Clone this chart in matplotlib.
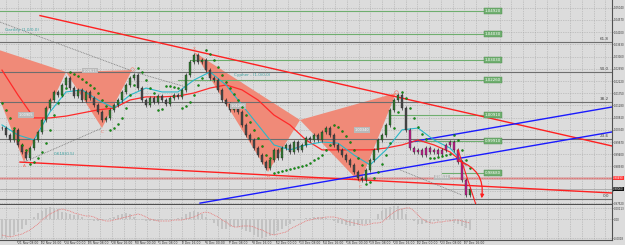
import matplotlib.pyplot as plt
import numpy as np
from matplotlib.patches import FancyArrowPatch

# ---- data (bar index = one candle, prices in quote units) ----
close = [
    1.0041, 1.0014, 0.9995, 1.0034, 0.9976, 0.9949, 0.9926, 0.9964, 0.9995, 1.0026,
    1.0072, 1.0118, 1.0149, 1.0180, 1.0168, 1.0207, 1.0234, 1.0195, 1.0164, 1.0188,
    1.0149, 1.0180, 1.0157, 1.0130, 1.0103, 1.0072, 1.0080, 1.0111, 1.0130, 1.0149,
    1.0180, 1.0207, 1.0234, 1.0245, 1.0195, 1.0149, 1.0130, 1.0157, 1.0141, 1.0164,
    1.0149, 1.0134, 1.0157, 1.0168, 1.0161, 1.0188, 1.0245, 1.0295, 1.0322, 1.0295,
    1.0303, 1.0264, 1.0234, 1.0226, 1.0188, 1.0149, 1.0134, 1.0111, 1.0118, 1.0103,
    1.0053, 1.0014, 0.9995, 0.9964, 0.9937, 0.9910, 0.9887, 0.9918, 0.9957, 0.9926,
    0.9964, 0.9976, 0.9949, 0.9987, 0.9957, 0.9976, 1.0003, 0.9995, 1.0014, 0.9995,
    1.0026, 1.0041, 1.0014, 0.9976, 0.9957, 0.9937, 0.9918, 0.9899, 0.9872, 0.9849,
    0.9841, 0.9880, 0.9918, 0.9957, 0.9995, 1.0014, 1.0053, 1.0111, 1.0149, 1.0168,
    1.0118, 1.0034, 0.9964, 0.9949, 0.9957, 0.9937, 0.9964, 0.9949, 0.9957, 0.9941,
    0.9957, 0.9976, 0.9987, 0.9957, 0.9910, 0.9841, 0.9783, 0.9806,
]
psar = [
    1.0138, 1.0111, 1.0080, 1.0041, 0.9995, 0.9976, 0.9957, 0.9903, 0.9910, 0.9926,
    0.9949, 0.9983, 1.0034, 1.0091, 1.0137, 1.0168, 1.0195, 1.0257, 1.0249, 1.0241,
    1.0230, 1.0218, 1.0207, 1.0195, 1.0176, 1.0149, 1.0126, 1.0034, 1.0041, 1.0057,
    1.0080, 1.0118, 1.0168, 1.0207, 1.0272, 1.0257, 1.0226, 1.0195, 1.0176, 1.0111,
    1.0114, 1.0203, 1.0203, 1.0199, 1.0195, 1.0118, 1.0126, 1.0141, 1.0168, 1.0207,
    1.0234, 1.0342, 1.0326, 1.0303, 1.0276, 1.0245, 1.0218, 1.0195, 1.0172, 1.0149,
    1.0122, 1.0091, 1.0064, 1.0034, 1.0003, 0.9972, 0.9937, 0.9926, 0.9868, 0.9872,
    0.9876, 0.9880, 0.9883, 0.9887, 0.9891, 0.9895, 0.9899, 0.9906, 0.9918, 0.9926,
    0.9937, 0.9957, 0.9976, 1.0053, 1.0045, 1.0030, 1.0010, 0.9987, 0.9957, 0.9926,
    0.9899, 0.9826, 0.9833, 0.9849, 0.9872, 0.9903, 0.9937, 0.9983, 1.0041, 1.0103,
    1.0180, 1.0157, 1.0118, 1.0080, 1.0045, 1.0018, 0.9999, 0.9926, 0.9926, 0.9930,
    0.9934, 0.9937, 0.9941, 1.0014, 0.9995, 0.9957, 0.9918, 0.9887,
]
ma_bars = list(range(0, 118, 4))
ma_fast = [
    1.0053, 1.0014, 0.9995, 1.0103, 1.0180, 1.0188, 1.0149, 1.0118, 1.0168, 1.0195,
    1.0180, 1.0180, 1.0226, 1.0257, 1.0207, 1.0130, 1.0053, 0.9976, 0.9957, 0.9976,
    0.9987, 0.9983, 0.9937, 0.9899, 0.9957, 1.0034, 1.0041, 0.9995, 0.9964, 0.9899,
]
ma_slow = [
    1.0264, 1.0168, 1.0080, 1.0080, 1.0087, 1.0099, 1.0111, 1.0118, 1.0149, 1.0161,
    1.0161, 1.0164, 1.0176, 1.0195, 1.0207, 1.0188, 1.0149, 1.0091, 1.0053, 0.9995,
    0.9957, 0.9957, 0.9957, 0.9957, 0.9964, 0.9976, 0.9995, 0.9976, 0.9949, 0.9899,
]
# oscillator sub-window, in units of 1e-4
osc_main = [
    -20, -19, -18, -16, -13, -10, -6, -1, 2, 6, 8, 11, 12, 11, 10, 7, 6, 5, 4, 4,
    2, 0, -1, -2, -2, -1, 0, 1, 2, 4, 5, 6, 5, 2, 0, -1, -2, -2, -2, -2,
    -1, -1, -1, 0, 1, 2, 5, 7, 8, 7, 5, 2, -1, -4, -7, -10, -10, -8, -8, -8,
    -10, -12, -13, -16, -18, -19, -18, -17, -16, -12, -10, -7, -5, -2, -1, 0, 1, 1, 2, 2,
    2, 1, 0, -2, -4, -5, -6, -7, -7, -6, -5, -5, -4, 0, 5, 8, 11, 12, 13, 13,
    10, 5, 0, -2, -5, -5, -4, -4, -2, -2, -1, -1, -2, -4, -5, -7, -9, -11,
]
osc_signal = [
    -16, -17, -18, -17, -16, -15, -13, -11, -8, -5, -1, 2, 5, 7, 9, 10, 9, 8, 6, 5,
    4, 3, 3, 2, 0, -1, -2, -2, -1, 0, 1, 2, 3, 4, 5, 4, 2, 0, -1, -2,
    -2, -2, -2, -1, -1, -1, 0, 1, 2, 4, 6, 7, 6, 4, 2, -1, -3, -6, -8, -8,
    -7, -7, -7, -8, -10, -11, -13, -15, -16, -15, -14, -13, -10, -8, -6, -4, -2, -1, 0, 1,
    1, 2, 2, 2, 1, 0, -2, -3, -4, -5, -6, -6, -5, -4, -4, -3, 0, 4, 7, 9,
    10, 11, 11, 8, 4, 0, -2, -4, -4, -3, -3, -2, -2, -1, -1, -2, -3, -4,
]

# harmonic patterns (X, A, B, C, D) as (bar, price)
gartley_bar = [-6, 5.5, 16, 25, 32.5]
gartley_px = [1.0368, 0.9910, 1.0257, 1.0041, 1.0264]
cypher_bar = [48, 66.5, 74.5, 89.5, 98.5]
cypher_px = [1.0334, 0.9872, 1.0072, 0.9830, 1.0176]

fib_zero, fib_full = 0.9768, 1.0745
fib_levels = [0.0, 23.6, 38.2, 50.0, 61.8]
targets = [1.0492, 1.0403, 1.0303, 1.0226, 1.0091, 0.9991, 0.9868]
target_start = [-0.5, -0.5, 47, 44, 97, 103, 110]
alert_price = 0.9849
bid_price = 0.9806

# small grey price tags left by the pattern tool: (bar, price, text)
tags = [(22, 1.0262, "1.02613"), (6, 1.0091, "1.00905"), (59, 1.0126, "1.01260"),
        (90, 1.0034, "1.00340"), (110, 0.9851, "0.98512")]

trend_red_top = ([9.5, 152.5], [1.0474, 0.9972])
trend_red_low = ([4.5, 152.5], [0.9910, 0.9791])
trend_blue_1 = ([49.5, 152.5], [0.9752, 1.0026])
trend_blue_2 = ([102, 152.5], [0.9987, 1.0122])
dotted_lines = [
    ([-0.5, 32], [1.0449, 1.0264]),
    ([33, 46], [1.0257, 1.0199]),
    ([5.5, 25], [0.9910, 1.0041]),
    ([99.5, 115], [0.9880, 0.9783]),
]

time_labels = [
    "21 Nov 08:00", "22 Nov 16:00", "24 Nov 00:00", "25 Nov 08:00", "28 Nov 16:00",
    "30 Nov 00:00", "1 Dec 08:00", "2 Dec 16:00", "6 Dec 00:00", "7 Dec 08:00",
    "8 Dec 16:00", "12 Dec 00:00", "13 Dec 08:00", "14 Dec 16:00", "16 Dec 00:00",
    "19 Dec 08:00", "20 Dec 16:00", "22 Dec 00:00", "23 Dec 08:00", "27 Dec 16:00",
]

BG = "#dcdcdc"
W, H = 625, 245

fig = plt.figure(figsize=(W / 100, H / 100), dpi=100, facecolor=BG)
ax = fig.add_axes([0, 41 / H, 612 / W, 204 / H], facecolor=BG)
sub = fig.add_axes([0, 5 / H, 612 / W, 35 / H], facecolor=BG)

n = len(close)
bars = np.arange(n)
c = np.array(close)
o = np.r_[c[0], c[:-1]]

ax.set_xlim(-0.5, 152.5)
ax.set_ylim(0.97486, 1.0534)
sub.set_xlim(-0.5, 152.5)
sub.set_ylim(-0.0021, 0.0014)

# grid
price_ticks = 0.9752 + 0.0047 * np.arange(17)
grid_x = (np.arange(6, 612, 11.75) - 2) / 4
for a in (ax, sub):
    for gx in grid_x:
        a.axvline(gx, color="#a8a8a8", lw=0.5, ls=(0, (1, 1.5)), zorder=0)
for p in price_ticks:
    ax.axhline(p, color="#a8a8a8", lw=0.5, ls=(0, (1, 1.5)), zorder=0)
for p in [0.0011, 0.0, -0.0019]:
    sub.axhline(p, color="#a8a8a8", lw=0.5, ls=(0, (1, 1.5)), zorder=0)

# harmonic pattern fills
for pb, pp in [(gartley_bar, gartley_px), (cypher_bar, cypher_px)]:
    ax.fill(pb[:3], pp[:3], color="#f08a78", lw=0, zorder=1)
    ax.fill(pb[2:], pp[2:], color="#f08a78", lw=0, zorder=1)
    for k in (1, 3):
        ax.text(pb[k], pp[k] - 0.0008, "AC"[k // 2], fontsize=3, color="#f07060",
                ha="center", va="top", zorder=6)
    ax.plot(pb[4], pp[4] + 0.0004, "o", ms=2.5, mfc="none", mec="#f07060", mew=0.4, zorder=6)
ax.text(cypher_bar[0], cypher_px[0] + 0.0005, "X", fontsize=3, color="#f07060", ha="center",
        va="bottom", zorder=6)
ax.text(0.75, 1.0415, "Gartley (1.0/0.0)", fontsize=3, color="#3aa0a0", zorder=6)
ax.text(58, 1.0241, "Cypher - (1.0/0.0)", fontsize=3, color="#3aa0a0", zorder=6)
ax.text(13, 0.9937, "0.618(0.5)", fontsize=3, color="#3aa0a0", zorder=6)
for tb, tp, tt in tags:
    ax.text(tb, tp, tt, fontsize=2.5, color="white", ha="center", va="center", zorder=6,
            bbox=dict(boxstyle="square,pad=0.2", fc="#b9b9b9", ec="none"))

# fibonacci levels
for lv in fib_levels:
    p = fib_zero + lv / 100 * (fib_full - fib_zero)
    ax.axhline(p, color="#6e6e6e", lw=0.8, zorder=2)
    ax.text(151.8, p + 0.0004, f"{lv:.1f}", fontsize=3, color="#444", ha="right", va="bottom", zorder=6)

# target levels
for p, s in zip(targets, target_start):
    ax.plot([s, 124.5], [p, p], color="#6fae6f", lw=0.8, zorder=2)
    ax.text(122.7, p, f"{p:.5f}", fontsize=2.8, color="white", ha="center", va="center", zorder=6,
            bbox=dict(boxstyle="square,pad=0.25", fc="#6fae6f", ec="#4f8e4f", lw=0.3))

# alert and bid lines
ax.axhline(alert_price, color="#d8a8a8", lw=1.8, zorder=2)
ax.axhline(alert_price, color="#e06060", lw=0.6, ls=(0, (1, 1)), zorder=2)
ax.axhline(bid_price, color="#9a9a9a", lw=0.5, zorder=2)

# trend lines
for (tb, tp), col in [(trend_red_top, "#ff2020"), (trend_red_low, "#ff2020"),
                      (trend_blue_1, "#1a1aff"), (trend_blue_2, "#1a1aff")]:
    ax.plot(tb, tp, color=col, lw=1.0, zorder=3)
for tb, tp in dotted_lines:
    ax.plot(tb, tp, color="#777777", lw=0.6, ls=(0, (1, 1)), zorder=3)

# moving averages
ax.plot(ma_bars, ma_slow, color="#ff2a2a", lw=0.9, zorder=3)
ax.plot(ma_bars, ma_fast, color="#28b8c8", lw=0.8, zorder=4)

# candles
bull = c >= o
body_col = np.where(bull, "#2f7a2f", "#4a4a4a")
magenta = (bars >= 102) & (bars <= 116)
body_col = np.where(magenta, "#c0208c", body_col)
wick = 0.0009
ax.vlines(bars, np.minimum(o, c) - wick, np.maximum(o, c) + wick, color="#2a2a2a", lw=0.5, zorder=4)
ax.bar(bars, np.abs(c - o) + 0.0002, bottom=np.minimum(o, c) - 0.0001, width=0.55,
       color=body_col, edgecolor="#1e1e1e", linewidth=0.25, zorder=5)

# parabolic SAR dots
ax.plot(bars, psar, "o", ms=1.4, mfc="#109a10", mec="#075a07", mew=0.3, ls="none", zorder=6)

# projected move arrow
ax.plot([114, 118.5], [0.9957, 0.9745], color="#ff2020", lw=0.8, zorder=6)
ax.add_patch(FancyArrowPatch((113.5, 0.9918), (119.8, 0.9760), connectionstyle="arc3,rad=-0.45",
                             arrowstyle="-|>", mutation_scale=5, color="#ff2020", lw=0.9, zorder=6))

# oscillator
sub.bar(bars, np.array(osc_main) * 1e-4, width=0.3, color="#c2c2c2", zorder=1)
sub.plot(bars, np.array(osc_signal) * 1e-4, color="#e87070", lw=0.6, ls=(0, (1, 1)), zorder=2)

# axes cosmetics
for a in (ax, sub):
    a.set_xticks([])
    for s in ("left", "top"):
        a.spines[s].set_visible(False)
    for s in ("right", "bottom"):
        a.spines[s].set_color("#505050")
        a.spines[s].set_linewidth(0.8)
    a.yaxis.tick_right()
    a.tick_params(axis="y", length=0.8, width=0.4, pad=0.2, labelsize=1.9, colors="#333333")
ax.set_yticks(price_ticks)
ax.set_yticklabels(["" if k in (1, 2) else f"{p:.5f}" for k, p in enumerate(price_ticks)])
sub.set_yticks([0.0011, 0.0, -0.0019])
sub.set_yticklabels(["0.00113", "0.00", "-0.0018"])

# price boxes on the scale
for p, fc in [(alert_price, "#ff3030"), (bid_price, "#111111")]:
    ax.text(152.8, p, f"{p:.5f}", fontsize=1.9, color="white", ha="left", va="center", clip_on=False,
            zorder=7, bbox=dict(boxstyle="square,pad=0.15", fc=fc, ec="none"))

# time labels
for k, lab in enumerate(time_labels):
    xpx = 17 + 23.5 * k
    fig.text(xpx / W + 0.001, 4.4 / H, lab, fontsize=2.2, color="#333333", ha="left", va="top")
    fig.lines.append(plt.Line2D([xpx / W, xpx / W], [5 / H, 3.5 / H], transform=fig.transFigure,
                                color="#505050", lw=0.4))

fig.savefig("out.png", dpi=100, facecolor=BG)
